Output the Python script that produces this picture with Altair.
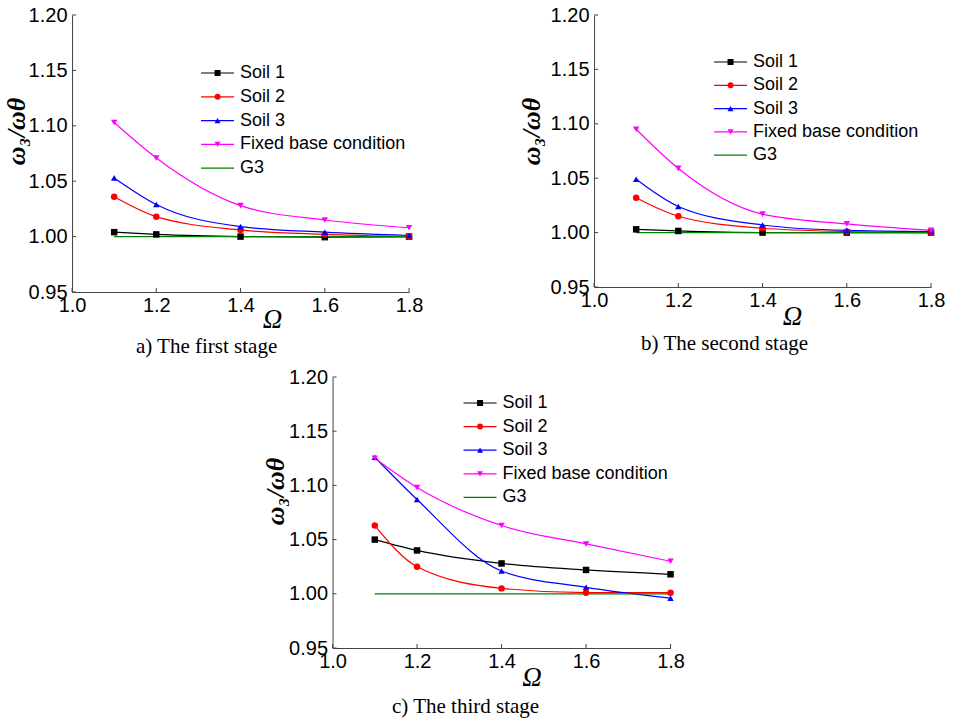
import altair as alt
import pandas as pd

# ---------------- data ----------------
omega = [1.1, 1.2, 1.4, 1.6, 1.8]
series = ["Soil 1", "Soil 2", "Soil 3", "Fixed base condition", "G3"]
colors = ["#000000", "#FF0000", "#0000FF", "#FF00FF", "#008000"]
shapes = ["square", "circle", "triangle-up", "triangle-down", "circle"]

# a) first stage
soil1_a = [1.004, 1.002, 1.000, 0.9995, 1.000]
soil2_a = [1.036, 1.018, 1.006, 1.002, 1.000]
soil3_a = [1.053, 1.029, 1.009, 1.004, 1.001]
fixed_a = [1.103, 1.071, 1.028, 1.015, 1.008]
g3_a = [1.000, 1.000, 1.000, 1.000, 1.000]

# b) second stage
soil1_b = [1.003, 1.0015, 1.000, 1.000, 1.000]
soil2_b = [1.032, 1.015, 1.004, 1.001, 1.000]
soil3_b = [1.049, 1.024, 1.007, 1.002, 1.001]
fixed_b = [1.095, 1.059, 1.017, 1.008, 1.002]
g3_b = [1.000, 1.000, 1.000, 1.000, 1.000]

# c) third stage
soil1_c = [1.050, 1.040, 1.028, 1.022, 1.018]
soil2_c = [1.063, 1.025, 1.005, 1.001, 1.001]
soil3_c = [1.126, 1.087, 1.021, 1.006, 0.996]
fixed_c = [1.125, 1.098, 1.063, 1.046, 1.030]
g3_c = [1.000, 1.000, 1.000, 1.000, 1.000]

x_ticks = [1.0, 1.2, 1.4, 1.6, 1.8]
y_ticks = [0.95, 1.00, 1.05, 1.10, 1.15, 1.20]

captions = ["a) The first stage", "b) The second stage", "c) The third stage"]

SANS = "Liberation Sans"
SERIF = "Liberation Serif"

color_scale = alt.Scale(domain=series, range=colors)
shape_scale = alt.Scale(domain=series, range=shapes)


def panel_df(cols):
    rows = []
    for name, vals in zip(series, cols):
        for xv, yv in zip(omega, vals):
            rows.append({"omega": xv, "ratio": yv, "series": name})
    return pd.DataFrame(rows)


def make_panel(cols, caption, w, h, leg, ytitle_pos, xtitle_pos, cap_dx, cap_offset):
    df = panel_df(cols)
    xs = alt.Scale(domain=[1.0, 1.8], nice=False, zero=False)
    ys = alt.Scale(domain=[0.95, 1.20], nice=False, zero=False)

    x_enc = alt.X(
        "omega:Q", scale=xs,
        axis=alt.Axis(
            values=x_ticks, format=".1f", title="Ω", titleX=xtitle_pos[0],
            titleY=xtitle_pos[1], titleAlign="center", titleBaseline="middle",
            titleFont=SERIF, titleFontStyle="italic", titleFontWeight="normal",
            titleFontSize=27, titleColor="black", labelPadding=3,
            labelFont=SANS, labelFontSize=20, labelColor="black",
            domainColor="#444", domainWidth=1,
            ticks=False, tickSize=0, grid=False, labelFlush=False,
        ),
    )
    y_enc = alt.Y(
        "ratio:Q", scale=ys,
        axis=alt.Axis(
            values=y_ticks, format=".2f", title="ω₃/ωθ", titleX=ytitle_pos[0],
            titleY=ytitle_pos[1], titleAngle=-90, titleAlign="center",
            titleBaseline="middle", titleFont=SERIF, titleFontStyle="italic",
            titleFontWeight="bold", titleFontSize=26, titleColor="black",
            labelFont=SANS, labelFontSize=20, labelColor="black",
            domainColor="#444", domainWidth=1,
            labelPadding=5, ticks=False, tickSize=0, grid=False,
            labelFlush=False,
        ),
    )

    base = alt.Chart(df)
    line = base.mark_line(strokeWidth=1.2, interpolate="monotone").encode(
        x=x_enc, y=y_enc,
        color=alt.Color("series:N", scale=color_scale, legend=None),
        detail="series:N",
    )
    pts = base.transform_filter(alt.datum.series != "G3").mark_point(
        filled=True, size=42, opacity=1
    ).encode(
        x=alt.X("omega:Q", scale=xs),
        y=alt.Y("ratio:Q", scale=ys),
        color=alt.Color("series:N", scale=color_scale, legend=None),
        shape=alt.Shape("series:N", scale=shape_scale, legend=None),
    )
    xt = alt.Chart(pd.DataFrame({"t": x_ticks})).mark_rule(
        color="#444", strokeWidth=1
    ).encode(x=alt.X("t:Q", scale=xs), y=alt.value(h), y2=alt.value(h - 4))
    yt = alt.Chart(pd.DataFrame({"t": y_ticks})).mark_rule(
        color="#444", strokeWidth=1
    ).encode(y=alt.Y("t:Q", scale=ys), x=alt.value(0), x2=alt.value(4))

    data_layer = alt.layer(line, pts, xt, yt)

    lx, ly, step = leg
    ldf = pd.DataFrame({"series": series})
    ly_enc = alt.Y(
        "series:N",
        scale=alt.Scale(type="point", domain=series,
                        range=[ly, ly + 4 * step], padding=0),
        axis=None,
    )
    lrule = alt.Chart(ldf).mark_rule(strokeWidth=1.2).encode(
        x=alt.value(lx), x2=alt.value(lx + 33), y=ly_enc,
        color=alt.Color("series:N", scale=color_scale, legend=None),
    )
    lpts = alt.Chart(ldf).transform_filter(alt.datum.series != "G3").mark_point(
        filled=True, size=36, opacity=1
    ).encode(
        x=alt.value(lx + 16.5), y=ly_enc,
        color=alt.Color("series:N", scale=color_scale, legend=None),
        shape=alt.Shape("series:N", scale=shape_scale, legend=None),
    )
    ltxt = alt.Chart(ldf).mark_text(
        align="left", baseline="middle", font=SANS, fontSize=18, color="black"
    ).encode(x=alt.value(lx + 39), y=ly_enc, text="series:N")
    legend_layer = alt.layer(lrule, lpts, ltxt)

    return alt.layer(data_layer, legend_layer).resolve_scale(
        y="independent"
    ).properties(
        width=w, height=h,
        title=alt.TitleParams(
            caption, orient="bottom", frame="group", anchor="middle",
            dx=cap_dx, offset=cap_offset, font=SERIF, fontSize=21,
            fontWeight="normal", color="black", baseline="top",
        ),
    )


pa = make_panel([soil1_a, soil2_a, soil3_a, fixed_a, g3_a], captions[0],
                337, 277, (129, 58, 23.8), (-56, 116), (200, 27), -34, 4)
pb = make_panel([soil1_b, soil2_b, soil3_b, fixed_b, g3_b], captions[1],
                337, 272, (120, 47, 23.3), (-63, 116), (198, 29), -38, 4)
pc = make_panel([soil1_c, soil2_c, soil3_c, fixed_c, g3_c], captions[2],
                338, 271, (131, 26, 23.6), (-57, 114), (199, 29), -36, 6)

top = alt.hconcat(pa, pb, spacing=95)
chart = alt.vconcat(top, pc, spacing=10, center=True).properties(
    padding={"left": 3, "top": 5, "right": 5, "bottom": 5},
    background="white",
).configure_view(stroke=None)

chart.save("out.html", embed_options={"renderer": "svg", "actions": False})
